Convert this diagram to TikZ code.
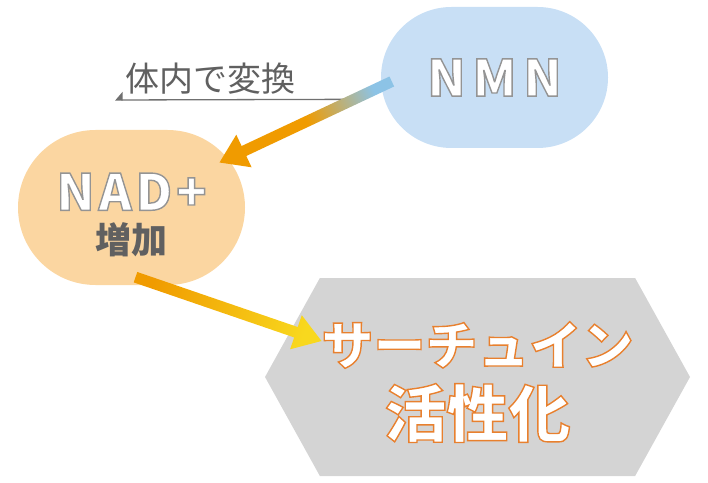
\documentclass[tikz,border=0pt]{standalone}
\usepackage{fontspec}
\usetikzlibrary{calc,shapes.misc,shapes.symbols,arrows.meta}
\newfontfamily\jpfont{Noto Sans CJK JP}
\definecolor{nmnblue}{RGB}{200,223,245}
\definecolor{nadorange}{RGB}{251,214,161}
\definecolor{hexgray}{RGB}{212,212,212}
\definecolor{textgray}{RGB}{96,96,96}
\definecolor{arrowblue}{RGB}{140,195,230}
\definecolor{arroworange}{RGB}{240,155,0}
\definecolor{arrowyellow}{RGB}{248,216,30}
% outlined text: stroke colour (r g b), text
\newcommand{\rimtext}[2]{{\special{pdf:literal direct 2 Tr 1.4 w #1 RG}#2\special{pdf:literal direct 0 Tr}}}
\def\rimgray{0.58 0.58 0.58}
\def\rimorange{0.91 0.50 0.18}
% fat arrow shaded along its length: start, tip, shading
\newcommand{\gradarrow}[3]{%
\shade[#3] let \p1=($(#2)-(#1)$), \n1={atan2(\y1,\x1)}, \n2={veclen(\x1,\y1)} in
  ($(#1)+(\n1+90:5.5)$) -- ($(#1)+(\n1:\n2-27)+(\n1+90:5.5)$) -- ($(#1)+(\n1:\n2-27)+(\n1+90:18)$) -- (#2)
  -- ($(#1)+(\n1:\n2-27)+(\n1-90:18)$) -- ($(#1)+(\n1:\n2-27)+(\n1-90:5.5)$) -- ($(#1)+(\n1-90:5.5)$) -- cycle;}

\begin{document}
\begin{tikzpicture}[x=1pt,y=1pt,font=\jpfont,
  pill/.style={rounded rectangle,inner sep=0pt,text=white},
  hexbox/.style={signal,signal to=east and west,signal pointer angle=122,fill=hexgray,inner sep=0pt},
  sirtline/.style={inner sep=0pt,text=white,font={\jpfont\bfseries\fontsize{#1}{#1}\selectfont}}]
\useasboundingbox (0,0) rectangle (708,482);
\node[pill,fill=nmnblue,minimum width=227pt,minimum height=141pt] (nmn) at (494.5,404.5)
  {\fontsize{50}{50}\selectfont\bfseries\addfontfeature{LetterSpace=14}\rimtext{\rimgray}{NMN}};
\node[pill,fill=nadorange,minimum width=227pt,minimum height=155pt,align=center] (nad) at (131.5,274.5)
  {\rule{0pt}{52pt}\fontsize{50}{50}\selectfont\bfseries\addfontfeature{LetterSpace=8}\rimtext{\rimgray}{NAD+}\\[11pt]
   \fontsize{36}{36}\selectfont\bfseries\color{textgray}増加};
\node[hexbox,minimum width=425pt,minimum height=198pt] (sirt) at (477.5,105) {};
\node[sirtline=52] (sirtup) at ($(sirt.center)+(0,32)$) {\rimtext{\rimorange}{サーチュイン}};
\node[sirtline=62] (sirtlow) at ($(sirt.center)+(0,-36)$) {\rimtext{\rimorange}{活性化}};
\node[anchor=base west,inner sep=0pt,text=textgray,font={\jpfont\fontsize{34}{34}\selectfont}] (conv) at (125,390) {体内で変換};

\coordinate (a1s) at ($(nmn.west)+(11,-4)$);
\coordinate (a1e) at ($(nad.center)+(88,45)$);
\coordinate (a2s) at ($(nad.south)+(4,8)$);
\coordinate (a2e) at ($(sirt.center)+(-156,36)$);
\coordinate (convend) at ($(a1s)!0.22!(a1e)$);
\coordinate (convtip) at ($(conv.base west)+(-10,-8)$);

\draw[textgray!90,line width=1.3pt,-{Triangle[harpoon,swap,length=7pt,width=16pt]}] (convend) -- (convtip);
\gradarrow{a1s}{a1e}{top color=arrowblue,bottom color=arroworange,middle color=arroworange,shading angle=295}
\gradarrow{a2s}{a2e}{top color=arroworange,bottom color=arrowyellow,shading angle=71}
\end{tikzpicture}
\end{document}
